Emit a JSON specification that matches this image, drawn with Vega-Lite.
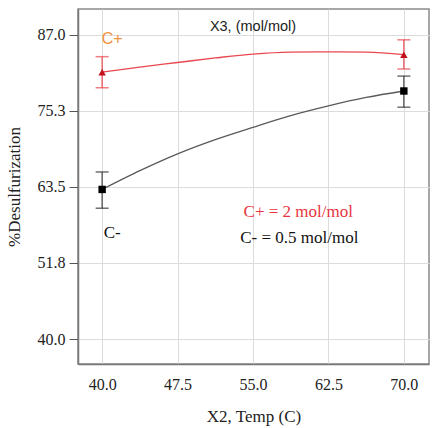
{
  "$schema": "https://vega.github.io/schema/vega-lite/v6.json",
  "width": 351,
  "height": 355,
  "autosize": "none",
  "padding": {"left": 78, "top": 9, "right": 8, "bottom": 64},
  "background": "white",
  "resolve": {"scale": {"color": "independent"}},
  "config": {
    "view": {"stroke": "#8a8a8a", "strokeWidth": 1.5},
    "axis": {
      "labelFont": "Times New Roman, Liberation Serif, serif",
      "titleFont": "Times New Roman, Liberation Serif, serif",
      "labelFontSize": 16,
      "titleFontSize": 17,
      "labelColor": "#222",
      "titleColor": "#222",
      "titleFontWeight": "normal",
      "gridColor": "#dcdcdc",
      "gridWidth": 1,
      "domainColor": "#777",
      "domainWidth": 1.5,
      "tickColor": "#555"
    }
  },
  "datasets": {
    "curve": [
      {"x": 40, "y": 81.2, "series": "C+"},
      {"x": 43.75, "y": 82.0, "series": "C+"},
      {"x": 47.5, "y": 82.7, "series": "C+"},
      {"x": 51.25, "y": 83.4, "series": "C+"},
      {"x": 55, "y": 84.0, "series": "C+"},
      {"x": 58.75, "y": 84.3, "series": "C+"},
      {"x": 62.5, "y": 84.35, "series": "C+"},
      {"x": 66.25, "y": 84.3, "series": "C+"},
      {"x": 70, "y": 83.9, "series": "C+"},
      {"x": 40, "y": 63.1, "series": "C-"},
      {"x": 43.75, "y": 66.0, "series": "C-"},
      {"x": 47.5, "y": 68.6, "series": "C-"},
      {"x": 51.25, "y": 70.8, "series": "C-"},
      {"x": 55, "y": 72.7, "series": "C-"},
      {"x": 58.75, "y": 74.5, "series": "C-"},
      {"x": 62.5, "y": 76.0, "series": "C-"},
      {"x": 66.25, "y": 77.3, "series": "C-"},
      {"x": 70, "y": 78.3, "series": "C-"}
    ],
    "pts": [
      {"x": 40, "y": 81.2, "lo": 78.8, "hi": 83.6, "series": "C+"},
      {"x": 70, "y": 83.9, "lo": 81.7, "hi": 86.2, "series": "C+"},
      {"x": 40, "y": 63.1, "lo": 60.2, "hi": 65.8, "series": "C-"},
      {"x": 70, "y": 78.3, "lo": 75.8, "hi": 80.6, "series": "C-"}
    ],
    "notes": [
      {"x": 55.0, "y": 88.2, "t": "X3, (mol/mol)", "k": "title"},
      {"x": 41.0, "y": 86.4, "t": "C+", "k": "cplus"},
      {"x": 41.0, "y": 56.3, "t": "C-", "k": "cminus"},
      {"x": 59.5, "y": 59.6, "t": "C+ = 2 mol/mol", "k": "red"},
      {"x": 59.6, "y": 55.6, "t": "C- = 0.5 mol/mol", "k": "black"}
    ]
  },
  "layer": [
    {
      "data": {"name": "curve"},
      "mark": {"type": "line", "interpolate": "monotone", "strokeWidth": 1.3},
      "encoding": {
        "x": {
          "field": "x", "type": "quantitative",
          "scale": {"domain": [37.6, 72.5], "nice": false, "zero": false},
          "axis": {"values": [40, 47.5, 55, 62.5, 70], "format": ".1f", "title": "X2, Temp (C)", "ticks": false, "labelPadding": 12, "titlePadding": 16}
        },
        "y": {
          "field": "y", "type": "quantitative",
          "scale": {"domain": [36.15, 90.96], "nice": false, "zero": false},
          "axis": {"values": [40.0, 51.75, 63.5, 75.25, 87.0], "format": ".1f", "labelExpr": "datum.value == 51.75 ? '51.8' : datum.value == 75.25 ? '75.3' : format(datum.value, '.1f')", "title": "%Desulfurization", "tickSize": 9, "labelPadding": 4, "titlePadding": 14}
        },
        "color": {"field": "series", "type": "nominal", "scale": {"domain": ["C+", "C-"], "range": ["#e8474f", "#5a5a5a"]}, "legend": null}
      }
    },
    {
      "data": {"name": "pts"},
      "mark": {"type": "rule", "strokeWidth": 1.2},
      "encoding": {
        "x": {"field": "x", "type": "quantitative"},
        "y": {"field": "lo", "type": "quantitative"},
        "y2": {"field": "hi"},
        "color": {"field": "series", "type": "nominal", "scale": {"domain": ["C+", "C-"], "range": ["#e8474f", "#444444"]}, "legend": null}
      }
    },
    {
      "data": {"name": "pts"},
      "mark": {"type": "tick", "orient": "horizontal", "size": 13, "thickness": 1.5},
      "encoding": {
        "x": {"field": "x", "type": "quantitative"},
        "y": {"field": "lo", "type": "quantitative"},
        "color": {"field": "series", "type": "nominal", "scale": {"domain": ["C+", "C-"], "range": ["#e8474f", "#333333"]}, "legend": null}
      }
    },
    {
      "data": {"name": "pts"},
      "mark": {"type": "tick", "orient": "horizontal", "size": 13, "thickness": 1.5},
      "encoding": {
        "x": {"field": "x", "type": "quantitative"},
        "y": {"field": "hi", "type": "quantitative"},
        "color": {"field": "series", "type": "nominal", "scale": {"domain": ["C+", "C-"], "range": ["#e8474f", "#333333"]}, "legend": null}
      }
    },
    {
      "data": {"name": "pts"},
      "mark": {"type": "point", "filled": true, "opacity": 1, "size": 55},
      "encoding": {
        "x": {"field": "x", "type": "quantitative"},
        "y": {"field": "y", "type": "quantitative"},
        "shape": {"field": "series", "type": "nominal", "scale": {"domain": ["C+", "C-"], "range": ["triangle-up", "square"]}, "legend": null},
        "color": {"field": "series", "type": "nominal", "scale": {"domain": ["C+", "C-"], "range": ["#c0101a", "#000000"]}, "legend": null}
      }
    },
    {
      "data": {"name": "notes"},
      "transform": [{"filter": "datum.k == 'title'"}],
      "mark": {"type": "text", "font": "Liberation Sans", "fontSize": 14.5, "color": "#222"},
      "encoding": {
        "x": {"field": "x", "type": "quantitative"},
        "y": {"field": "y", "type": "quantitative"},
        "text": {"field": "t"}
      }
    },
    {
      "data": {"name": "notes"},
      "transform": [{"filter": "datum.k == 'cplus'"}],
      "mark": {"type": "text", "font": "Liberation Sans", "fontSize": 16, "color": "#f0923c"},
      "encoding": {
        "x": {"field": "x", "type": "quantitative"},
        "y": {"field": "y", "type": "quantitative"},
        "text": {"field": "t"}
      }
    },
    {
      "data": {"name": "notes"},
      "transform": [{"filter": "datum.k == 'cminus' || datum.k == 'black'"}],
      "mark": {"type": "text", "font": "Times New Roman, Liberation Serif, serif", "fontSize": 17, "color": "#111"},
      "encoding": {
        "x": {"field": "x", "type": "quantitative"},
        "y": {"field": "y", "type": "quantitative"},
        "text": {"field": "t"}
      }
    },
    {
      "data": {"name": "notes"},
      "transform": [{"filter": "datum.k == 'red'"}],
      "mark": {"type": "text", "font": "Times New Roman, Liberation Serif, serif", "fontSize": 17, "color": "#e8343e"},
      "encoding": {
        "x": {"field": "x", "type": "quantitative"},
        "y": {"field": "y", "type": "quantitative"},
        "text": {"field": "t"}
      }
    }
  ]
}
